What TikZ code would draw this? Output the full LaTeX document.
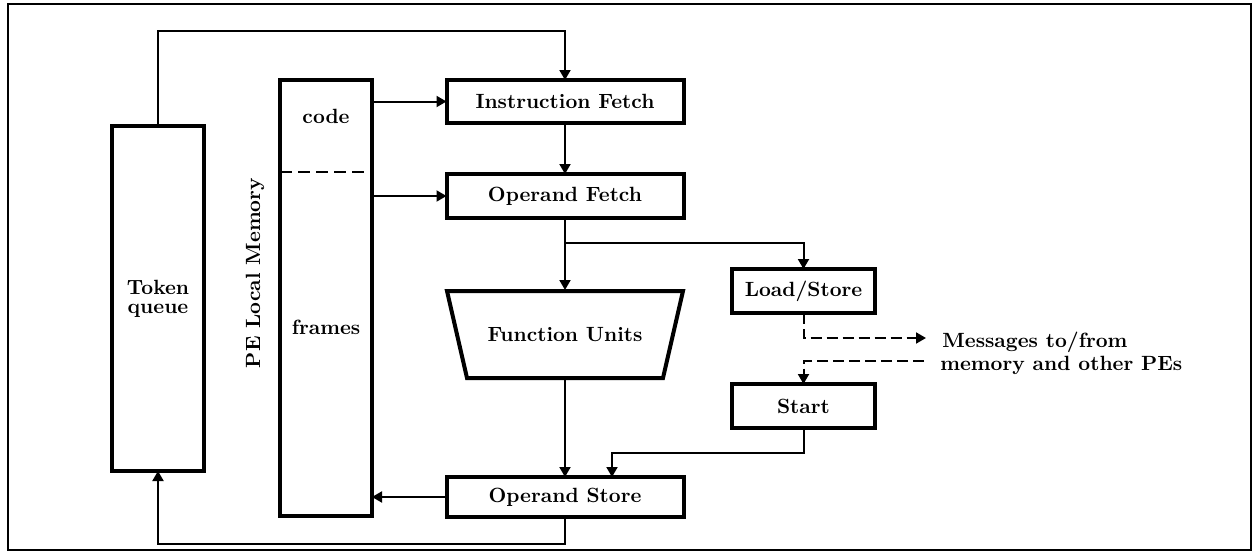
\documentclass[tikz,border=0pt]{standalone}
\usepackage{tikz}
\usetikzlibrary{positioning, arrows.meta, calc}

\begin{document}
\begin{tikzpicture}[
            x=0.5pt, y=-0.5pt,
            labelfont/.style={font=\fontsize{10.3}{12}\selectfont\bfseries},
            block/.style={draw=black, line width=2pt, rectangle, inner sep=0pt, outer sep=0pt, labelfont},
            stagebox/.style={block, minimum width=118.5pt},
            sidebox/.style={block, minimum width=71.5pt, minimum height=22pt},
            column/.style={block, minimum width=46pt, align=center},
            arr/.style={line width=1pt, -{Triangle[length=5pt, width=5.5pt]}},
            msg/.style={arr, dash pattern=on 5.5pt off 2.5pt},
            frameline/.style={line width=1.2pt}
        ]

        \useasboundingbox (0,0) rectangle (1255,557);
        \draw[frameline] (8,4) rectangle (1251,550);

        % Knoten
        \node[column, minimum height=172.5pt, font=\fontsize{10.3}{9.5}\selectfont\bfseries] (queue) at (158,298.5) {Token\\queue};
        \node[column, minimum height=218pt] (mem) at (326,298) {};
        \node[labelfont, inner sep=0pt] (codelbl) at (326,116) {code};
        \node[labelfont, inner sep=0pt] (frameslbl) at (326,327) {frames};
        \node[labelfont, inner sep=0pt, rotate=90] (memlbl) at (255,273) {PE Local Memory};
        \draw[dashed, line width=1pt, dash pattern=on 6pt off 3pt] (mem.west |- 0,172) -- (mem.east |- 0,172);

        \node[stagebox, minimum height=21.5pt] (ifetch) at (565,101.5) {Instruction Fetch};
        \node[stagebox, minimum height=22pt] (ofetch) at (565,196) {Operand Fetch};
        \draw[block] (447,291) -- (683,291) -- (663,378) -- (467,378) -- cycle;
        \node[labelfont, inner sep=0pt, outer sep=0pt, minimum height=44.5pt] (funits) at (565,334.5) {Function Units};
        \node[stagebox, minimum height=20pt] (ostore) at (565,497) {Operand Store};

        \node[sidebox] (lsbox) at (803.5,291) {Load/Store};
        \node[sidebox] (start) at (803.5,406) {Start};
        \node[labelfont, inner sep=0pt, anchor=base west] (msgtop) at (942,347) {Messages to/from};
        \node[labelfont, inner sep=0pt, anchor=base west] (msgbot) at (940,370) {memory and other PEs};

        \coordinate (branch) at (565,243);
        \coordinate (msgin) at (926,338);
        \coordinate (msgout) at (924,361);

        % Kanten
        \draw[arr] (queue.north) -- (queue.north |- 0,31) -| (ifetch.north);
        \draw[arr] (mem.east |- ifetch) -- (ifetch.west);
        \draw[arr] (mem.east |- ofetch) -- (ofetch.west);
        \draw[arr] (ifetch) -- (ofetch);
        \draw[arr] (ofetch) -- (funits);
        \draw[arr] (branch) -| (lsbox.north);
        \draw[arr] (funits) -- (ostore);
        \draw[arr] (start.south) |- ([xshift=23.5pt]ostore.north |- 0,453) -- ([xshift=23.5pt]ostore.north);
        \draw[arr] (ostore.west) -- (mem.east |- ostore.west);
        \draw[arr] (ostore.south) -- (ostore.south |- 0,544) -| (queue.south);
        \draw[msg] (lsbox.south) |- (msgin);
        \draw[msg] (msgout) -| (start.north);

    \end{tikzpicture}
\end{document}
